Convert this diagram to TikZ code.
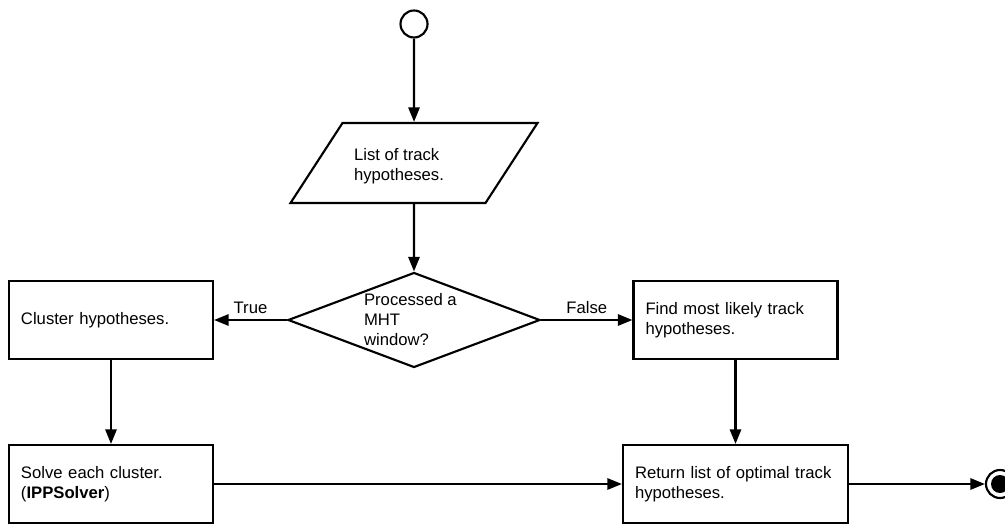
\documentclass[tikz,border=0pt]{standalone}
\usepackage{fontspec}
\setmainfont{Liberation Sans}
\usetikzlibrary{shapes.geometric, arrows.meta}
\begin{document}
\begin{tikzpicture}[x=0.75pt, y=-0.75pt,
  line width=1.6pt,
  every node/.style={font=\fontsize{12.5}{15}\selectfont},
  flow/.style={-{Triangle[length=11pt,width=8.5pt]}},
  proc/.style={draw, rectangle, minimum height=58.5pt, inner xsep=9pt, inner ysep=0pt, align=left},
  txt/.style={align=left, anchor=west, inner sep=0pt},
  lbl/.style={midway, above=4pt, inner sep=0pt},
]
\useasboundingbox (0,0) rectangle (1005,527);

% start / stop terminals
\node[draw, circle, minimum size=20.25pt, inner sep=0pt] (start) at (414,24) {};
\node[draw, circle, minimum size=21pt, inner sep=0pt] (stop) at (1000,484) {};
\node[fill, circle, minimum size=13.5pt, inner sep=0pt] (stopdot) at (stop) {};

% input data: a slanted rectangle
\begin{scope}[shift={(414,163)}]
  \node[draw, rectangle, minimum width=146.25pt, minimum height=60pt, inner sep=0pt,
        xslant=0.65, transform shape] (list) at (0,0) {};
\end{scope}
\node[txt] (listtxt) at (353,166) {List of track\\hypotheses.};

% decision
\node[draw, diamond, aspect=2.65, minimum width=189pt, minimum height=71.25pt,
      inner sep=0pt] (dec) at (414,320) {};
\node[txt] (dectxt) at (363,320) {Processed a\\MHT\\window?};

% process steps
\node[proc, text width=135pt] (cluster) at (111,320) {Cluster hypotheses.};
\node[proc, text width=135pt] (find) at (735.5,320) {Find most likely track\\hypotheses.};
\node[proc, text width=135pt] (solve) at (111,484) {Solve each cluster.\\(\textbf{IPPSolver})};
\node[proc, text width=150.75pt] (ret) at (735.5,484) {Return list of optimal track\\hypotheses.};

% connectors
\draw[flow] (start) -- (list);
\draw[flow] (list) -- (dec);
\draw[flow] (dec) -- node[lbl] (ltrue) {True} (cluster);
\draw[flow] (dec) -- node[lbl] (lfalse) {False} (find);
\draw[flow] (cluster) -- (solve);
\draw[flow] (find) -- (ret);
\draw[flow] (solve) -- (ret);
\draw[flow] (ret) -- (stop);
\end{tikzpicture}
\end{document}
